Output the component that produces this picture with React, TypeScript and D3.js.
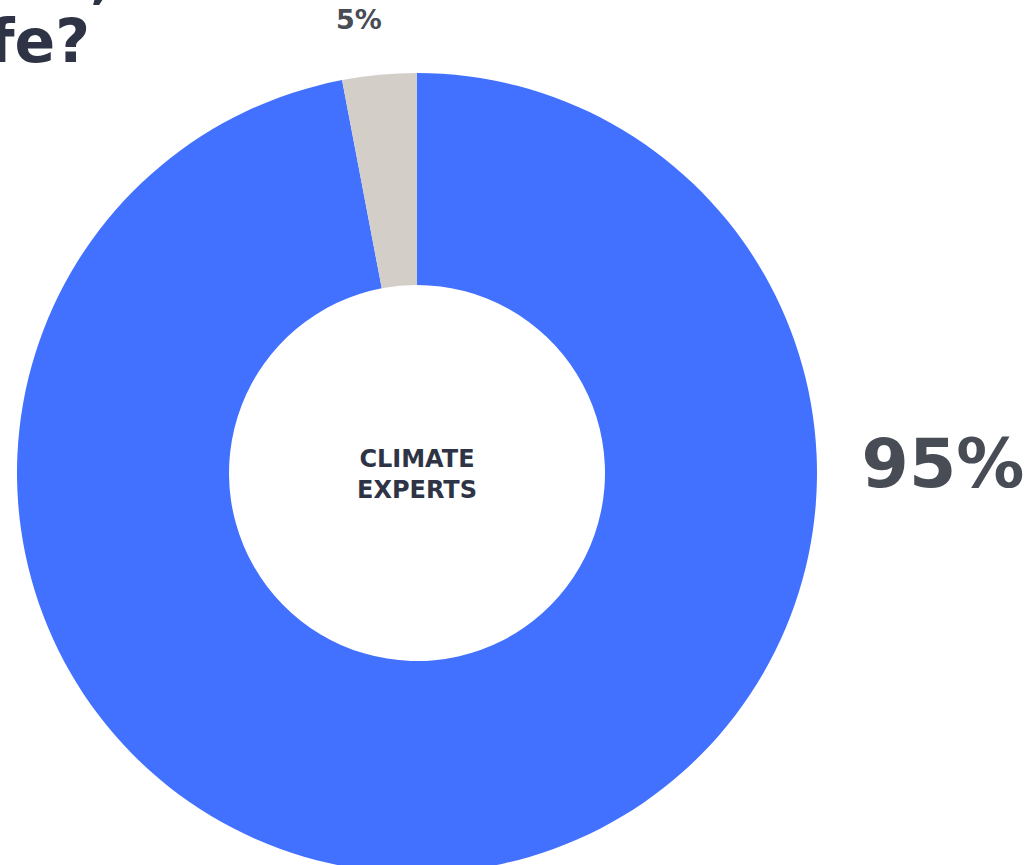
import React, { useEffect } from "react";
import * as d3 from "d3";

const categories = ["Yes", "No"];
const sliceValues = [97, 3];
const valueLabels = ["95%", "5%"];
const colors = ["#4371FF", "#D3CFC8"];
const centerLines = ["CLIMATE", "EXPERTS"];
const titleLines = ["Will climate change harm,", "your life?"];

const W = 1035;
const H = 865;
const cx = 417;
const cy = 473;
const outerR = 400;
const innerR = 188;

export default function App() {
  useEffect(() => {
    document.body.style.margin = "0";
  }, []);

  const pie = d3.pie<number>().sort(null).value((d) => d);
  const arcs = pie(sliceValues);
  const arc = d3.arc<d3.PieArcDatum<number>>().innerRadius(innerR).outerRadius(outerR);

  const font = "'DejaVu Sans', sans-serif";

  return (
    <svg width={W} height={H} style={{ position: "absolute", left: 0, top: 0, display: "block" }}>
      <rect width={W} height={H} fill="#fff" />
      <g fontFamily={font} fontWeight="bold" fill="#2E3445">
        <text x={112} y={-3} fontSize={58} textAnchor="end">{titleLines[0]}</text>
        <text x={90} y={62} fontSize={60} textAnchor="end">{titleLines[1]}</text>
      </g>
      <g transform={`translate(${cx},${cy})`}>
        {arcs.map((a, i) => (
          <path key={categories[i]} d={arc(a) || ""} fill={colors[i]} />
        ))}
      </g>
      <g fontFamily={font} fontWeight="bold" fill="#474C55">
        <text x={943} y={487} fontSize={68} textAnchor="middle">{valueLabels[0]}</text>
        <text x={359} y={29} fontSize={27} textAnchor="middle">{valueLabels[1]}</text>
      </g>
      <g fontFamily={font} fontWeight="bold" fill="#2E3445" textAnchor="middle" fontSize={24}>
        <text x={cx} y={467}>{centerLines[0]}</text>
        <text x={cx} y={498}>{centerLines[1]}</text>
      </g>
    </svg>
  );
}
